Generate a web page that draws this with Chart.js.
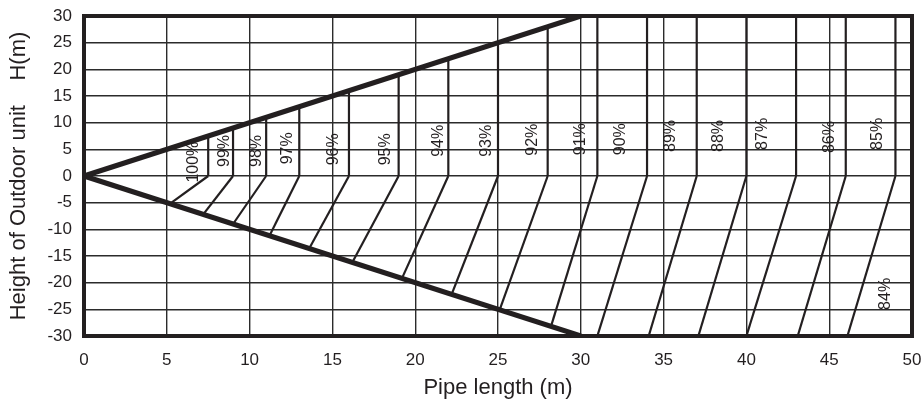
<!DOCTYPE html>
<html>
<head>
<meta charset="utf-8">
<script src="https://cdn.jsdelivr.net/npm/chart.js@4/dist/chart.umd.min.js"></script>
<style>
  html, body { margin: 0; padding: 0; background: #fff; }
  #wrap { width: 923px; height: 406px; }
</style>
</head>
<body>
<div id="wrap"><canvas id="c" width="923" height="406"></canvas></div>
<script>
// ---- data ----
const boundaryUpperX = [0, 30];
const boundaryUpperY = [0, 30];
const boundaryLowerX = [0, 30];
const boundaryLowerY = [0, -30];

// vertical lines from H=0 up to the upper boundary
const upperX   = [7.5, 9, 11, 13, 16, 19, 22, 25, 28, 31, 34, 37, 40, 43, 46, 49];
const upperTop = [7.5, 9, 11, 13, 16, 19, 22, 25, 28, 30, 30, 30, 30, 30, 30, 30];

// slanted lines from (upperX, 0) down to the lower boundary
const lowerEndX = [5.2, 7.2, 9, 11.2, 13.6, 16.2, 19.2, 22.2, 25.1, 28.2, 31, 34.1, 37.1, 40, 43.1, 46.1];
const lowerEndY = [-5.2, -7.2, -9, -11.2, -13.6, -16.2, -19.2, -22.2, -25.1, -28.2, -30, -30, -30, -30, -30, -30];

// capacity labels
const pctText = ['100%','99%','98%','97%','96%','95%','94%','93%','92%','91%','90%','89%','88%','87%','86%','85%','84%'];
const pctX    = [6.6, 8.5, 10.45, 12.3, 15.1, 18.2, 21.4, 24.3, 27.1, 30.0, 32.4, 35.4, 38.3, 41.0, 45.05, 47.9, 48.4];
const pctY    = [2.6, 4.7, 4.7, 5.2, 5.0, 5.0, 6.6, 6.6, 6.8, 6.9, 6.9, 7.5, 7.5, 7.9, 7.3, 7.9, -22.1];

const xTicks = [0, 5, 10, 15, 20, 25, 30, 35, 40, 45, 50];
const yTicks = [-30, -25, -20, -15, -10, -5, 0, 5, 10, 15, 20, 25, 30];
const xTitle = 'Pipe length (m)';
const yTitle = 'Height of Outdoor unit    H(m)';

// ---- build datasets ----
const INK = '#231f20';
const FONT = '"Liberation Sans", Arial, sans-serif';
const datasets = [];
function seg(xs, ys, w) {
  datasets.push({
    data: xs.map((x, i) => ({ x: x, y: ys[i] })),
    borderColor: INK, borderWidth: w, pointRadius: 0, fill: false, tension: 0
  });
}
seg(boundaryUpperX, boundaryUpperY, 5);
seg(boundaryLowerX, boundaryLowerY, 5);
for (let i = 0; i < upperX.length; i++) {
  seg([upperX[i], upperX[i]], [0, upperTop[i]], 2.2);
  seg([upperX[i], lowerEndX[i]], [0, lowerEndY[i]], 2.2);
}

const framePlugin = {
  id: 'frame',
  afterDatasetsDraw(chart) {
    const { ctx, chartArea: a } = chart;
    ctx.save();
    ctx.strokeStyle = INK;
    ctx.lineWidth = 4;
    ctx.strokeRect(a.left, a.top, a.right - a.left, a.bottom - a.top);
    // percent labels
    const xs = chart.scales.x, ys = chart.scales.y;
    ctx.fillStyle = INK;
    ctx.font = '16px ' + FONT;
    ctx.textAlign = 'center';
    ctx.textBaseline = 'middle';
    for (let i = 0; i < pctText.length; i++) {
      ctx.save();
      ctx.translate(xs.getPixelForValue(pctX[i]), ys.getPixelForValue(pctY[i]));
      ctx.rotate(-Math.PI / 2);
      ctx.fillText(pctText[i], 0, 0);
      ctx.restore();
    }
    ctx.restore();
  }
};

new Chart(document.getElementById('c'), {
  type: 'line',
  data: { datasets },
  options: {
    responsive: false,
    animation: false,
    devicePixelRatio: 1,
    layout: { padding: { top: 16, right: 11, left: 0, bottom: 0 } },
    plugins: { legend: { display: false }, tooltip: { enabled: false } },
    scales: {
      x: {
        type: 'linear', min: 0, max: 50,
        afterBuildTicks: s => { s.ticks = xTicks.map(v => ({ value: v })); },
        afterFit: s => { s.height = 70; s.paddingLeft = 0; s.paddingRight = 0; },
        ticks: { color: INK, padding: 14, font: { size: 17, family: FONT } },
        grid: { color: '#2b2b2b', lineWidth: 1.4, drawTicks: false },
        border: { display: false },
        title: { display: true, text: xTitle, color: INK, padding: { top: 0, bottom: 5 },
                 font: { size: 22, family: FONT } }
      },
      y: {
        type: 'linear', min: -30, max: 30,
        afterBuildTicks: s => { s.ticks = yTicks.map(v => ({ value: v })); },
        afterFit: s => { s.width = 84; s.paddingTop = 0; s.paddingBottom = 0; },
        ticks: { color: INK, padding: 12, font: { size: 17, family: FONT } },
        grid: { color: '#2b2b2b', lineWidth: 1.4, drawTicks: false },
        border: { display: false },
        title: { display: true, text: yTitle, color: INK, padding: { top: 6, bottom: 0 },
                 font: { size: 22, family: FONT } }
      }
    }
  },
  plugins: [framePlugin]
});
</script>
</body>
</html>
